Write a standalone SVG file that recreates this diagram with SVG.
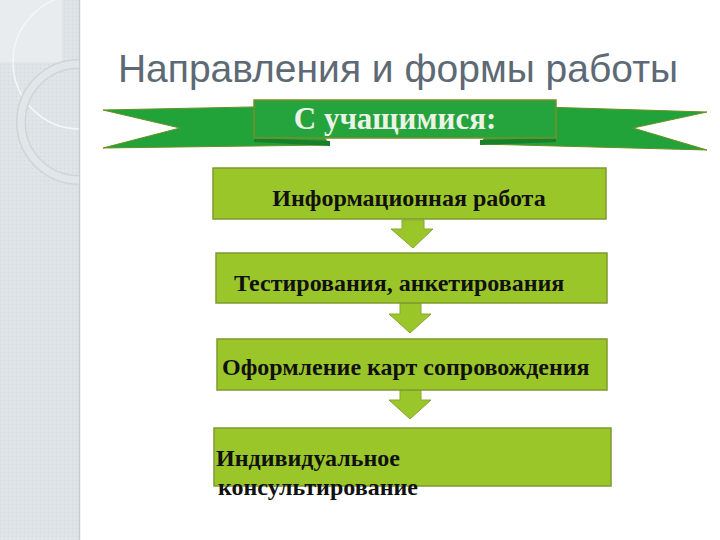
<svg xmlns="http://www.w3.org/2000/svg" width="720" height="540" viewBox="0 0 720 540">
<defs>
<style>
.box{fill:#9bc62a;stroke:#7f9a2e;stroke-width:1.5}
.arr{fill:#9bc62a;stroke:#86a832;stroke-width:1}
.lbl{font-family:"Liberation Serif","Times New Roman",serif;font-weight:bold;font-size:24px;fill:#111}
.rib{fill:#21a33a;stroke:#6b8f22;stroke-width:1}
</style>
<pattern id="tex" width="4" height="4" patternUnits="userSpaceOnUse">
<rect width="4" height="4" fill="#dde3e6"/>
<rect width="1" height="1" fill="#d3d9dc"/>
<rect x="2" y="2" width="1" height="1" fill="#e6ebed"/>
</pattern>
<clipPath id="side"><rect x="0" y="0" width="79" height="540"/></clipPath>
</defs>
<rect width="720" height="540" fill="#ffffff"/>
<g id="sidebar">
<rect x="0" y="0" width="79" height="540" fill="url(#tex)"/>
<rect x="0" y="0" width="62" height="62" fill="#e8ecee"/>
<line x1="79.5" y1="0" x2="79.5" y2="540" stroke="#c5cbce" stroke-width="1.5"/>
<g clip-path="url(#side)" fill="none">
<circle cx="80" cy="62" r="67" stroke="#f4f6f7" stroke-width="1.5"/>
<circle cx="79" cy="122" r="58" stroke="#cfd4d7" stroke-width="10"/>
<circle cx="79" cy="122" r="58" stroke="#e2e6e8" stroke-width="7"/>
</g>
</g>
<text id="title" x="398" y="82" text-anchor="middle" font-family="Liberation Sans, Arial, sans-serif" font-size="39" fill="#5d6a75">Направления и формы работы</text>
<g id="banner">
<polygon class="rib" points="103,110 300,106 330,145 103,148 180,128"/>
<polygon class="rib" points="707,112 510,106 480,144 707,150 633,128"/>
<polygon points="254,138 330,141 330,146 254,142" fill="#16812a"/>
<polygon points="556,138 480,140 480,145 556,142" fill="#16812a"/>
<rect x="254" y="100" width="302" height="38" fill="#25a33c" stroke="#7a8f2a" stroke-width="1.5"/>
<text x="395" y="129" text-anchor="middle" font-family="Liberation Serif, Times New Roman, serif" font-weight="bold" font-size="31" fill="#eaf3e6">С учащимися:</text>
</g>
<g id="connectors">
<polygon class="arr" points="402,220 424,220 424,229 433,229 413,248 391,229 402,229"/>
<polygon class="arr" points="400,303 421,303 421,314 431,314 410,333 389,314 400,314"/>
<polygon class="arr" points="400,390 421,390 421,400 431,400 410,419 389,400 400,400"/>
</g>
<g id="n1">
<rect class="box" x="213" y="168" width="393" height="51"/>
<text class="lbl" x="409" y="206" text-anchor="middle">Информационная работа</text>
</g>
<g id="n2">
<rect class="box" x="216" y="253" width="391" height="50"/>
<text class="lbl" x="234" y="291">Тестирования, анкетирования</text>
</g>
<g id="n3">
<rect class="box" x="217" y="339" width="390" height="51"/>
<text class="lbl" x="222" y="375">Оформление карт сопровождения</text>
</g>
<g id="n4">
<rect class="box" x="214" y="428" width="397" height="58"/>
<text class="lbl" x="216" y="466">Индивидуальное</text>
<text class="lbl" x="218" y="495">консультирование</text>
</g>
</svg>
